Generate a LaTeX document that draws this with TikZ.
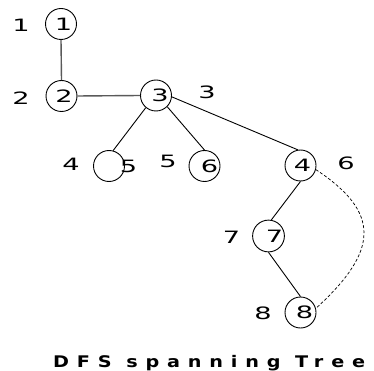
\documentclass[tikz,border=0pt]{standalone}
\usepackage{fontspec}
\usepackage{xcolor}
\usepackage{tikz}
\usetikzlibrary{positioning}
\newfontfamily\digitfont[FakeStretch=1.6]{DejaVu Sans}
\newfontfamily\titlefont[FakeStretch=1.2,LetterSpace=49]{DejaVu Sans}
\definecolor{ink}{HTML}{000000}
\definecolor{treegray}{HTML}{5A5A5A}

\begin{document}
\begin{tikzpicture}[
  x=1pt,y=-1pt,
  vertex/.style={circle,draw=ink,line width=0.9pt,minimum size=31pt,inner sep=0pt,
                 font=\digitfont\fontsize{17}{17}\selectfont},
  num/.style={inner sep=0pt,font=\digitfont\fontsize{17}{17}\selectfont},
  treeedge/.style={draw=treegray,line width=1.4pt},
  edge/.style={draw=ink,line width=0.9pt},
  backedge/.style={draw=ink,line width=0.7pt,dash pattern=on 3pt off 2pt},
]
\useasboundingbox (0,0) rectangle (374,371);

\node[vertex] (v1) at (61,24) {\hspace*{5pt}1};
\node[vertex] (v2) at (61.5,96) {\hspace*{5pt}2};
\node[vertex] (v3) at (156,95.5) {\hspace*{8pt}3};
\node[vertex] (v5) at (109,166) {};
\node[num] (t5) at (128.5,166) {5};
\node[vertex] (v6) at (204.5,166) {\hspace*{10pt}6};
\node[vertex] (v4) at (300.5,165.5) {\hspace*{4pt}4};
\node[vertex] (v7) at (268.5,236) {\hspace*{12pt}7};
\node[vertex] (v8) at (300.5,312.5) {\hspace*{8pt}8};

\node[num] (l1) at (21,25) {1};
\node[num] (l2) at (21,98) {2};
\node[num] (l3) at (207,92) {3};
\node[num] (l4) at (71,164) {4};
\node[num] (l5) at (168,161) {5};
\node[num] (l6) at (346,163) {6};
\node[num] (l7) at (231.5,237) {7};
\node[num] (l8) at (263,313) {8};

\draw[treeedge] (v1.south) -- (v2.north);
\draw[treeedge] (v2.east) -- (v3.west);
\draw[edge] (v3.-130) -- (v5.75);
\draw[edge] (v3.-45) -- (v6.north);
\draw[edge] (v3.-5) -- (v4.100);
\draw[edge] (v4.south) -- (v7.80);
\draw[edge] (v7.south) -- (v8.north);
\draw[backedge] (v4.-15) .. controls (380,212) and (380,250) .. (v8.15);

\node[anchor=base west,inner sep=0pt,font=\titlefont\bfseries\fontsize{16}{16}\selectfont]
  (title) at (53,367) {DFS spanning Tree};
\end{tikzpicture}
\end{document}
